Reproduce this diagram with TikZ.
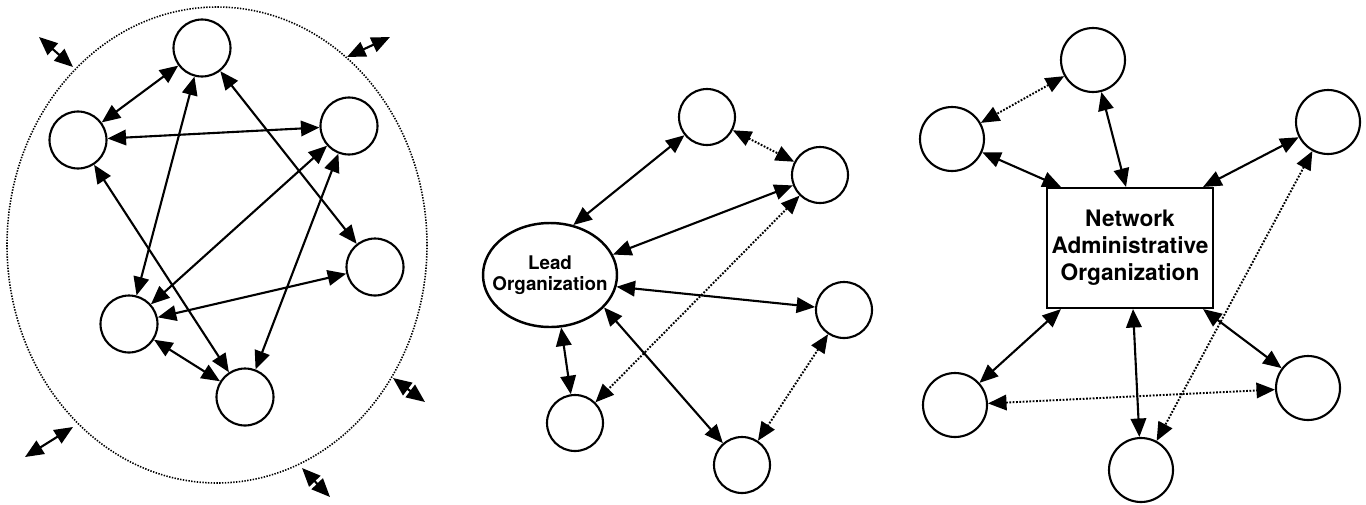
\documentclass[tikz,border=0pt]{standalone}
\usepackage{fontspec}
\setmainfont{TeX Gyre Heros}
\usetikzlibrary{shapes.geometric, arrows.meta}

\begin{document}
\begin{tikzpicture}[x=0.2mm, y=-0.2mm, line width=1.2pt,
    >={Triangle[length=3.7mm, width=3.1mm]},
    acteur/.style={circle, draw, fill=white, inner sep=0pt, minimum size=#1},
    acteur/.default=11.2mm,
    lien/.style={<->},
    lienfaible/.style={<->, line width=1.1pt, dash pattern=on 1pt off 0.9pt}]
    \useasboundingbox (0,0) rectangle (1366,504);

    % Reseau partage : frontiere pointillee
    \draw[line width=0.9pt, dash pattern=on 0.8pt off 0.8pt] (217,245) ellipse [x radius=210, y radius=238];
    \node[acteur=11.4mm] (a1) at (202,48) {};
    \node[acteur=11.4mm] (a2) at (78,140) {};
    \node[acteur=11.4mm] (a3) at (349,126) {};
    \node[acteur=11.4mm] (a4) at (375,267) {};
    \node[acteur=11.4mm] (a5) at (129,324) {};
    \node[acteur=11.4mm] (a6) at (245,397) {};
    \foreach \u/\v in {a1/a2, a1/a5, a1/a4, a2/a3, a2/a6, a3/a5, a3/a6, a4/a5, a5/a6}
        \draw[lien] (\u) -- (\v);

    % Echanges avec l'exterieur
    \coordinate (o1a) at (39,37);   \coordinate (o1b) at (73,67);
    \coordinate (o2a) at (347,57);  \coordinate (o2b) at (390,37);
    \coordinate (o3a) at (393,378); \coordinate (o3b) at (425,402);
    \coordinate (o4a) at (25,457);  \coordinate (o4b) at (73,427);
    \coordinate (o5a) at (302,468); \coordinate (o5b) at (330,497);
    \foreach \i in {1,...,5}
        \draw[lien] (o\i a) -- (o\i b);

    % Organisation pilote
    \node[ellipse, draw, line width=1.4pt, fill=white, minimum width=26.8mm, minimum height=20.8mm] (lead) at (550,275) {};
    \node[font=\bfseries\fontsize{10.7}{12}\selectfont, align=center] (leadtxt) at (lead) {Lead\\Organization};
    \node[acteur] (b1) at (707,117) {};
    \node[acteur] (b2) at (820,175) {};
    \node[acteur] (b3) at (844,310) {};
    \node[acteur] (b4) at (575,423) {};
    \node[acteur] (b5) at (742,465) {};
    \draw[lien] (b1) -- (lead.65);
    \draw[lien] (b2) -- (lead.18);
    \draw[lien] (b3) -- (lead.-10);
    \draw[lien] (b4) -- (lead.-78);
    \draw[lien] (b5) -- (lead.-31);
    \draw[lienfaible] (b1) -- (b2);
    \draw[lienfaible] (b2) -- (b4);
    \draw[lienfaible] (b3) -- (b5);

    % Organisation administrative du reseau
    \node[draw, fill=white, inner sep=1pt, minimum width=33.2mm, minimum height=24mm, align=center,
          font=\bfseries\fontsize{12.9}{15.3}\selectfont] (nao) at (1130,248)
          {Network\\Administrative\\Organization};
    \node[acteur=12.8mm] (c1) at (1093,60) {};
    \node[acteur=12.8mm] (c2) at (952,139) {};
    \node[acteur=12.8mm] (c3) at (1328,122) {};
    \node[acteur=12.8mm] (c4) at (955,405) {};
    \node[acteur=12.8mm] (c5) at (1308,388) {};
    \node[acteur=12.8mm] (c6) at (1141,470) {};
    \draw[lien] (c1) -- ([xshift=-0.8mm]nao.north);
    \draw[lien] (c2) -- ([xshift=3mm]nao.north west);
    \draw[lien] (c3) -- ([xshift=-2.2mm]nao.north east);
    \draw[lien] (c4) -- ([xshift=3mm]nao.south west);
    \draw[lien] (c6) -- ([xshift=0.6mm]nao.south);
    \draw[lien] (c5) -- ([xshift=-2.2mm]nao.south east);
    \draw[lienfaible] (c1) -- (c2);
    \draw[lienfaible] (c4) -- (c5);
    \draw[lienfaible] (c3) -- (c6);
\end{tikzpicture}
\end{document}
